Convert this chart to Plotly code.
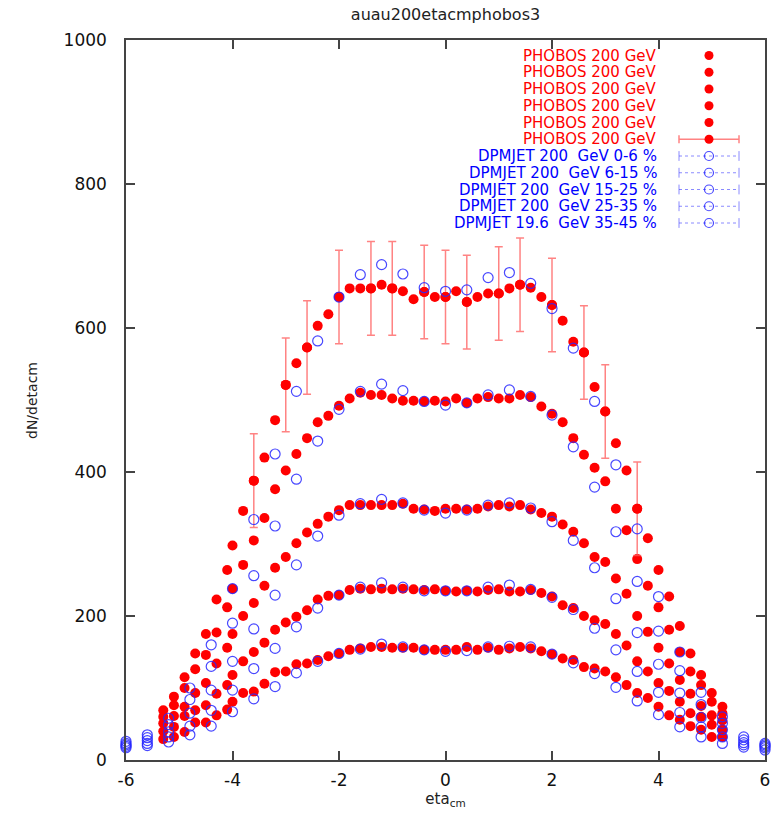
import plotly.graph_objects as go

# ---------------- data ----------------
eta_ph = [-5.3, -5.1, -4.9, -4.7, -4.5, -4.3, -4.1,
          -4.0, -3.8, -3.6, -3.4, -3.2, -3.0, -2.8, -2.6, -2.4, -2.2, -2.0,
          -1.8, -1.6, -1.4, -1.2, -1.0, -0.8, -0.6, -0.4, -0.2, 0.0,
          0.2, 0.4, 0.6, 0.8, 1.0, 1.2, 1.4, 1.6, 1.8, 2.0, 2.2, 2.4, 2.6,
          2.8, 3.0, 3.2, 3.4, 3.6, 3.8, 4.0, 4.2, 4.4, 4.6, 4.8, 5.0, 5.2]

ph_0_6 = [69, 88, 115, 148, 175, 223, 264,
          298, 346, 388, 420, 472, 521, 551, 573, 603, 619, 643,
          655, 655, 655, 660, 655, 651, 640, 650, 643, 643,
          651, 636, 643, 648, 648, 655, 660, 656, 643, 632, 610, 581, 566,
          518, 484, 440, 402, 349, 308, 264, 227, 186, 148, 118, 93, 74]
ph_6_15 = [60, 76, 100, 126, 146, 177, 212,
           238, 271, 305, 336, 376, 402, 425, 447, 469, 478, 492,
           502, 510, 507, 507, 502, 499, 499, 498, 499, 498,
           502, 496, 502, 504, 502, 502, 507, 504, 491, 481, 469, 447, 424,
           406, 387, 349, 319, 279, 242, 212, 181, 150, 123, 104, 81, 65]
ph_15_25 = [51, 61, 74, 93, 107, 134, 156,
            175, 200, 218, 242, 267, 282, 301, 316, 328, 338, 347,
            354, 354, 354, 354, 354, 356, 349, 348, 346, 349,
            349, 348, 349, 352, 354, 352, 354, 348, 343, 338, 327, 317, 301,
            282, 275, 252, 231, 200, 178, 156, 134, 111, 92, 75, 62, 55]
ph_25_35 = [40, 46, 61, 69, 76, 92, 104,
            118, 137, 150, 163, 181, 191, 199, 208, 223, 228, 229,
            236, 238, 237, 238, 237, 238, 237, 236, 237, 235,
            234, 235, 234, 236, 237, 234, 234, 236, 232, 227, 215, 211, 200,
            194, 189, 175, 159, 137, 123, 107, 96, 81, 65, 60, 49, 42]
ph_35_45 = [29, 32, 39, 52, 52, 62, 70,
            81, 93, 95, 106, 122, 123, 133, 134, 139, 144, 148,
            153, 155, 157, 157, 156, 156, 156, 153, 153, 153,
            153, 157, 153, 156, 153, 155, 157, 155, 151, 147, 141, 139, 129,
            127, 123, 115, 104, 93, 86, 74, 62, 56, 47, 42, 32, 32]

eta_err = [-3.6, -3.0, -2.6, -2.0, -1.4, -1.0, -0.4, 0.0, 0.4, 1.0, 1.4, 2.0, 2.6, 3.0, 3.6]
ph_err_val = [388, 521, 573, 643, 655, 655, 650, 643, 636, 648, 660, 632, 566, 484, 349]
ph_err = [65, 65, 65, 65, 65, 65, 65, 65, 65, 65, 65, 65, 65, 65, 65]

eta_dp = [-6.0, -5.6, -5.2, -4.8, -4.4, -4.0, -3.6, -3.2, -2.8, -2.4, -2.0,
          -1.6, -1.2, -0.8, -0.4, 0.0, 0.4, 0.8, 1.2, 1.6, 2.0,
          2.4, 2.8, 3.2, 3.6, 4.0, 4.4, 4.8, 5.2, 5.6, 6.0]
dp_0_6 = [26, 35, 58, 100, 160, 238, 334, 425, 512, 582, 643,
          674, 688, 675, 656, 651, 653, 670, 677, 662, 627,
          572, 498, 410, 321, 227, 150, 94, 60, 32, 23]
dp_6_15 = [23, 31, 49, 84, 130, 190, 256, 325, 390, 443, 487,
           512, 522, 513, 498, 493, 496, 507, 514, 505, 479,
           435, 379, 317, 248, 179, 124, 77, 51, 28, 21]
dp_15_25 = [21, 27, 39, 65, 97, 137, 182, 229, 271, 311, 340,
            356, 362, 357, 347, 343, 347, 354, 357, 350, 331,
            305, 267, 224, 177, 133, 93, 59, 42, 24, 19]
dp_25_35 = [19, 23, 32, 47, 69, 97, 127, 155, 185, 211, 229,
            240, 246, 240, 235, 235, 235, 240, 243, 237, 226,
            209, 183, 153, 123, 94, 66, 46, 32, 21, 17]
dp_35_45 = [17, 20, 25, 35, 47, 67, 85, 102, 121, 137, 148,
            154, 161, 157, 153, 151, 152, 157, 158, 157, 147,
            135, 120, 101, 82, 63, 46, 32, 23, 18, 14]

ph_labels = ["PHOBOS 200 GeV"] * 6
dp_labels = ["DPMJET 200  GeV 0-6 %", "DPMJET 200  GeV 6-15 %",
             "DPMJET 200  GeV 15-25 %", "DPMJET 200  GeV 25-35 %",
             "DPMJET 19.6  GeV 35-45 %"]

x_ticks = [-6, -4, -2, 0, 2, 4, 6]
y_ticks = [0, 200, 400, 600, 800, 1000]

# ---------------- style ----------------
RED = "#ff0000"
ERRC = "rgba(255,90,90,0.75)"
BLUE = "rgba(40,40,255,0.85)"
FONT = "DejaVu Sans"

fig = go.Figure()

for ys in [ph_0_6, ph_6_15, ph_15_25, ph_25_35, ph_35_45]:
    fig.add_trace(go.Scatter(x=eta_ph, y=ys, mode="markers", cliponaxis=False,
                             marker=dict(symbol="circle", size=10, color=RED,
                                         line=dict(width=0)),
                             showlegend=False, hoverinfo="skip"))

fig.add_trace(go.Scatter(x=eta_err, y=ph_err_val, mode="markers", cliponaxis=False,
                         marker=dict(symbol="circle", size=10, color=RED, line=dict(width=0)),
                         error_y=dict(type="data", array=ph_err, visible=True,
                                      color=ERRC, thickness=1.5, width=4),
                         showlegend=False, hoverinfo="skip"))

for ys in [dp_0_6, dp_6_15, dp_15_25, dp_25_35, dp_35_45]:
    fig.add_trace(go.Scatter(x=eta_dp, y=ys, mode="markers", cliponaxis=False,
                             marker=dict(symbol="circle-open", size=10, color=BLUE,
                                         line=dict(width=1.2, color=BLUE)),
                             showlegend=False, hoverinfo="skip"))

# ---------------- custom legend (text left, sample right) ----------------
L, R, T, B = 126, 765, 40, 760
def px2x(px):
    return (px - L) / (R - L)
def py2y(py):
    return (B - py) / (B - T)

row0, step = 55.5, 16.75
sym_x, seg_l, seg_r, text_r = 709, 679, 739, 659
labels = ph_labels + dp_labels
annotations = []
for i, lab in enumerate(labels):
    yy = py2y(row0 + step * i)
    col = RED if i < 6 else "#0000ff"
    annotations.append(dict(x=px2x(text_r), y=yy, xref="paper", yref="paper",
                            text=lab, showarrow=False, xanchor="right", yanchor="middle",
                            font=dict(family=FONT, size=15, color=col)))
    if i < 5:
        fig.add_trace(go.Scatter(x=[px2x(sym_x)], y=[yy], xaxis="x2", yaxis="y2",
                                 mode="markers", cliponaxis=False,
                                 marker=dict(symbol="circle", size=9, color=RED),
                                 showlegend=False, hoverinfo="skip"))
    elif i == 5:
        fig.add_trace(go.Scatter(x=[px2x(sym_x)], y=[yy], xaxis="x2", yaxis="y2",
                                 mode="markers", cliponaxis=False,
                                 marker=dict(symbol="circle", size=9, color=RED),
                                 error_x=dict(type="constant", value=px2x(seg_r) - px2x(sym_x),
                                              color=ERRC, thickness=1.5, width=4),
                                 showlegend=False, hoverinfo="skip"))
    else:
        fig.add_trace(go.Scatter(x=[px2x(seg_l), px2x(seg_r)], y=[yy, yy],
                                 xaxis="x2", yaxis="y2", mode="lines+markers",
                                 cliponaxis=False,
                                 line=dict(color="rgba(60,60,255,0.6)", width=1, dash="dot"),
                                 marker=dict(symbol="line-ns-open", size=7,
                                             line=dict(width=1, color="rgba(60,60,255,0.6)")),
                                 showlegend=False, hoverinfo="skip"))
        fig.add_trace(go.Scatter(x=[px2x(sym_x)], y=[yy], xaxis="x2", yaxis="y2",
                                 mode="markers", cliponaxis=False,
                                 marker=dict(symbol="circle-open", size=9, color=BLUE,
                                             line=dict(width=1.2, color=BLUE)),
                                 showlegend=False, hoverinfo="skip"))

# y-axis title placed like the reference (far left, rotated)
annotations.append(dict(x=px2x(32), y=py2y(400), xref="paper", yref="paper",
                        text="dN/detacm", showarrow=False, textangle=-90,
                        xanchor="center", yanchor="middle",
                        font=dict(family=FONT, size=14, color="#222222")))

axis_common = dict(showgrid=False, zeroline=False, showline=True, linecolor="#444444",
                   linewidth=1.5, ticks="inside", ticklen=9, tickwidth=1.5,
                   tickcolor="#444444", mirror="ticks", automargin=False,
                   tickfont=dict(family=FONT, size=17, color="#111111"))

fig.update_layout(
    width=777, height=813,
    margin=dict(l=L, r=777 - R, t=T, b=813 - B, autoexpand=False),
    paper_bgcolor="white", plot_bgcolor="white",
    showlegend=False,
    title=dict(text="auau200etacmphobos3", x=(L + R) / 2 / 777, xanchor="center",
               y=1 - 14 / 813, yanchor="middle",
               font=dict(family=FONT, size=16, color="#222222")),
    xaxis=dict(range=[-6, 6], tickvals=x_ticks, ticktext=[str(v) for v in x_ticks],
               ticklabelstandoff=4,
               title=dict(text="eta<sub>cm</sub>", font=dict(family=FONT, size=15, color="#222222"),
                          standoff=4),
               **axis_common),
    yaxis=dict(range=[0, 1000], tickvals=y_ticks, ticktext=[str(v) for v in y_ticks],
               ticklabelstandoff=14,
               **axis_common),
    xaxis2=dict(overlaying="x", range=[0, 1], visible=False),
    yaxis2=dict(overlaying="y", range=[0, 1], visible=False),
    annotations=annotations,
)

fig.write_html("out.html", config={"displayModeBar": False},
               post_script="document.body.style.margin='0';document.body.style.padding='0';")
